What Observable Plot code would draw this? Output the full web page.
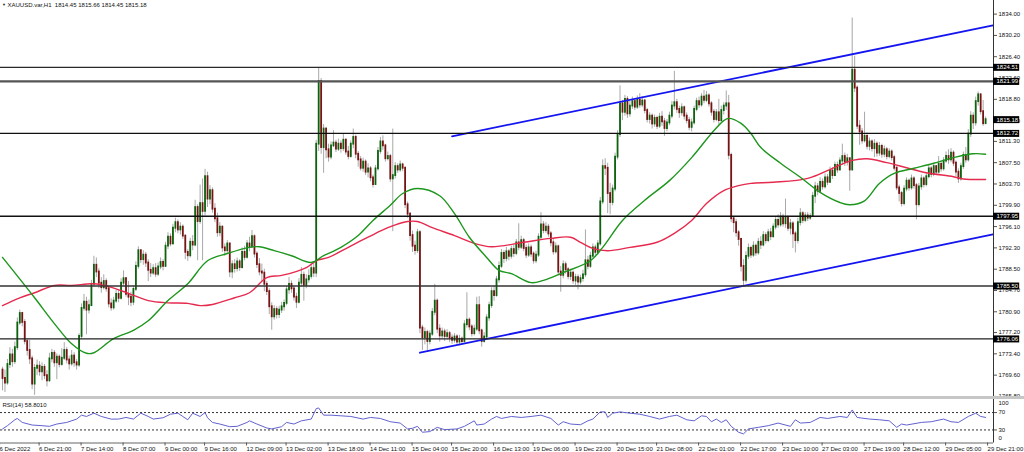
<!DOCTYPE html>
<html><head><meta charset="utf-8">
<script src="https://cdn.jsdelivr.net/npm/d3@7"></script>
<script src="https://cdn.jsdelivr.net/npm/@observablehq/plot@0.6"></script>
<style>
html,body{margin:0;padding:0;background:#fff;overflow:hidden}
#chart{width:1024px;height:452px;display:flex;flex-direction:column}
#chart svg{display:block}
.sep{height:3px;background:#c6c6c6;flex:none}
</style></head><body><div id="chart"></div>
<script>
// ---------- DATA ----------
const headerText = "XAUUSD.var,H1  1814.45 1815.66 1814.45 1815.18";
const rsiLabel = "RSI(14) 58.8010";
const firstOpen = 1770.5;
const closes = [
1769.0,1768.2,1771.5,1773.2,1772.0,1774.5,1778.9,1780.6,1779.0,1775.6,
1774.0,1772.5,1768.0,1770.8,1771.2,1770.2,1771.0,1769.5,1768.6,1772.5,
1773.5,1771.8,1772.8,1771.5,1772.6,1774.0,1772.3,1771.6,1773.0,1771.8,
1771.4,1776.5,1781.5,1782.6,1781.2,1782.0,1785.8,1789.2,1788.0,1786.0,
1785.2,1786.3,1785.0,1782.3,1781.6,1782.8,1784.0,1783.3,1786.0,1786.8,
1784.0,1783.5,1782.6,1784.9,1789.0,1791.8,1790.2,1791.0,1789.6,1788.3,
1787.8,1788.6,1787.6,1788.9,1789.7,1789.0,1792.6,1794.2,1793.0,1795.8,
1796.8,1795.5,1796.0,1794.4,1791.5,1790.9,1793.3,1792.8,1799.5,1797.0,
1800.2,1798.8,1805.0,1801.0,1802.5,1799.2,1797.5,1795.0,1796.0,1792.3,
1791.8,1793.0,1788.0,1789.3,1788.6,1789.8,1788.8,1791.5,1790.6,1793.0,
1792.5,1794.3,1791.2,1789.3,1788.0,1787.8,1785.8,1784.5,1781.8,1780.0,
1781.3,1780.4,1781.2,1781.8,1782.4,1784.8,1785.8,1785.0,1783.5,1782.6,
1786.0,1787.4,1785.6,1786.6,1787.2,1788.6,1787.8,1810.8,1822.0,1810.2,
1813.5,1809.8,1808.5,1810.5,1811.0,1809.9,1810.8,1810.0,1811.5,1809.4,
1808.6,1810.8,1812.0,1809.0,1808.0,1806.5,1807.6,1805.8,1806.4,1804.8,
1803.6,1806.4,1809.5,1811.2,1810.5,1808.2,1808.6,1804.6,1805.2,1806.8,
1806.2,1807.1,1806.5,1800.0,1798.3,1794.5,1792.6,1791.8,1795.0,1778.0,
1776.3,1777.2,1775.6,1776.9,1780.8,1782.8,1777.8,1776.6,1777.3,1776.5,
1777.0,1776.2,1775.8,1776.4,1775.5,1776.0,1775.6,1778.6,1779.4,1778.2,
1777.0,1777.8,1782.0,1777.5,1775.6,1776.4,1779.8,1782.0,1784.5,1783.8,
1786.6,1789.0,1791.3,1790.4,1791.6,1790.8,1792.0,1791.3,1793.2,1792.4,
1793.6,1792.2,1791.0,1792.3,1791.2,1790.0,1791.0,1794.2,1796.4,1795.4,
1796.0,1794.8,1793.2,1791.6,1792.5,1788.0,1787.4,1789.3,1788.4,1787.2,
1787.8,1786.4,1787.0,1786.2,1786.8,1787.5,1790.0,1789.0,1790.8,1792.3,
1791.5,1793.0,1800.5,1806.8,1806.5,1802.0,1800.4,1802.8,1808.5,1812.5,
1818.0,1816.5,1818.8,1816.2,1817.6,1818.4,1817.4,1818.6,1817.8,1818.5,
1816.8,1815.2,1815.8,1814.4,1815.4,1814.0,1815.6,1814.8,1813.6,1814.6,
1815.8,1817.6,1818.2,1817.0,1816.4,1817.3,1815.8,1815.0,1813.8,1814.6,
1817.0,1818.4,1817.8,1819.2,1818.6,1819.4,1818.0,1816.5,1815.2,1816.4,
1815.0,1816.8,1817.6,1818.0,1808.8,1797.5,1796.8,1795.0,1793.8,1789.0,
1786.5,1790.8,1792.2,1791.0,1792.6,1791.4,1793.3,1792.8,1794.5,1793.6,
1795.0,1794.3,1796.0,1797.2,1796.4,1797.8,1796.6,1797.6,1795.8,1796.6,
1794.8,1793.6,1796.8,1798.4,1797.2,1798.0,1797.6,1797.9,1801.5,1803.2,
1802.4,1804.0,1803.2,1804.8,1804.0,1806.0,1805.2,1807.0,1806.2,1807.8,
1808.6,1807.6,1808.2,1806.2,1824.0,1820.8,1814.0,1813.0,1811.4,1812.2,
1810.4,1811.2,1810.0,1810.8,1809.2,1810.4,1809.0,1809.8,1808.6,1809.4,
1808.4,1806.5,1803.0,1802.0,1800.2,1802.8,1804.2,1803.0,1804.6,1803.4,
1800.0,1803.2,1804.6,1803.6,1805.0,1806.4,1805.4,1806.8,1805.8,1807.2,
1806.4,1807.8,1808.6,1808.0,1809.2,1807.4,1805.8,1804.6,1806.8,1808.8,
1808.0,1812.6,1815.8,1814.6,1818.4,1819.6,1816.6,1814.45,1815.18
];
const highs = [
1771.0,1770.5,1772.4,1774.5,1774.2,1775.5,1779.8,1781.2,1780.8,1779.5,
1776.0,1775.8,1773.0,1771.5,1772.3,1772.0,1771.8,1771.5,1770.4,1773.5,
1774.2,1774.0,1773.4,1773.2,1774.3,1775.4,1774.5,1773.0,1774.0,1773.6,
1772.4,1777.0,1782.3,1784.0,1783.5,1783.0,1786.5,1790.8,1790.5,1788.6,
1787.0,1787.5,1786.8,1785.4,1783.2,1783.5,1784.7,1784.8,1786.8,1788.2,
1787.0,1786.3,1784.4,1785.5,1789.8,1792.5,1792.0,1791.8,1791.5,1790.2,
1789.5,1789.3,1789.5,1789.6,1790.5,1790.2,1793.3,1795.0,1794.8,1796.5,
1797.6,1797.3,1796.8,1796.4,1794.6,1792.0,1794.0,1794.5,1800.8,1800.0,
1803.5,1804.6,1806.3,1805.8,1803.4,1803.0,1800.2,1798.5,1796.8,1796.2,
1793.0,1793.6,1793.2,1790.0,1790.2,1790.5,1790.2,1792.3,1792.6,1793.6,
1794.2,1795.4,1794.6,1791.6,1790.4,1789.4,1788.5,1786.3,1785.0,1782.5,
1782.0,1781.8,1781.9,1782.6,1783.0,1785.4,1787.0,1786.4,1785.4,1784.2,
1786.8,1788.8,1788.0,1787.5,1788.4,1789.3,1789.8,1811.5,1824.5,1822.5,
1814.3,1813.8,1810.8,1811.2,1813.2,1811.5,1811.7,1811.4,1812.6,1811.8,
1810.4,1811.4,1813.5,1812.4,1809.5,1808.6,1808.3,1808.0,1807.3,1806.8,
1805.3,1807.0,1810.2,1812.0,1812.3,1810.8,1809.4,1809.0,1813.5,1807.5,
1807.3,1807.8,1807.4,1806.8,1800.5,1798.6,1795.3,1793.5,1795.6,1795.4,
1778.5,1778.0,1777.6,1777.5,1781.5,1785.8,1783.2,1778.6,1778.0,1777.8,
1777.7,1777.4,1776.8,1777.0,1776.8,1776.7,1776.4,1779.3,1784.3,1779.8,
1778.6,1778.5,1783.5,1783.6,1777.8,1777.2,1780.4,1782.6,1785.2,1785.5,
1787.2,1789.8,1792.0,1791.8,1792.4,1792.0,1792.6,1792.8,1793.8,1796.6,
1794.4,1794.0,1792.8,1793.0,1792.8,1791.6,1791.7,1794.8,1798.6,1797.0,
1796.8,1796.5,1795.2,1793.8,1793.2,1792.8,1789.0,1790.0,1789.8,1788.8,
1788.5,1788.2,1787.6,1787.5,1787.4,1788.3,1795.5,1790.8,1791.5,1793.0,
1792.8,1793.6,1801.3,1808.0,1808.2,1807.4,1803.8,1803.5,1809.2,1813.2,
1821.2,1818.6,1819.5,1819.3,1818.4,1819.2,1818.9,1819.4,1819.8,1819.3,
1818.8,1817.2,1816.4,1816.2,1816.0,1815.8,1816.3,1816.6,1815.4,1815.2,
1816.5,1818.4,1823.8,1818.8,1817.6,1818.0,1817.6,1816.4,1815.6,1815.3,
1817.6,1819.0,1819.2,1819.8,1820.4,1820.2,1819.8,1818.4,1817.0,1817.0,
1818.8,1817.6,1818.2,1820.3,1819.5,1809.2,1797.8,1797.4,1795.4,1794.0,
1790.2,1791.6,1793.0,1792.6,1793.4,1793.0,1794.0,1794.3,1795.2,1795.0,
1795.6,1795.8,1796.6,1797.9,1798.2,1798.6,1798.3,1801.0,1798.0,1797.4,
1797.0,1795.2,1797.6,1799.3,1798.8,1798.6,1798.6,1798.4,1802.2,1804.0,
1803.8,1804.8,1804.6,1805.5,1805.4,1806.7,1806.6,1807.6,1807.6,1808.4,
1810.8,1809.2,1809.0,1808.4,1833.3,1826.5,1821.2,1815.0,1813.6,1816.5,
1812.8,1811.9,1811.6,1811.6,1811.2,1811.1,1810.8,1810.5,1810.2,1810.0,
1809.8,1808.8,1806.8,1803.5,1802.4,1803.4,1804.8,1804.6,1805.3,1805.0,
1803.8,1803.8,1805.3,1805.0,1805.6,1807.2,1806.8,1807.4,1807.0,1808.6,
1807.8,1808.4,1809.4,1809.8,1810.0,1809.6,1807.8,1806.4,1807.4,1809.4,
1810.2,1813.4,1816.6,1816.4,1819.2,1820.1,1819.8,1818.6,1815.66
];
const lows = [
1766.8,1766.5,1767.8,1770.8,1771.0,1771.5,1774.0,1778.5,1778.2,1775.0,
1773.0,1771.5,1767.0,1766.0,1769.5,1769.4,1768.6,1768.8,1767.5,1768.3,
1771.8,1771.0,1768.8,1770.9,1771.2,1772.2,1771.6,1770.5,1771.2,1771.0,
1770.5,1771.0,1776.0,1781.0,1776.8,1780.5,1781.8,1785.3,1787.0,1785.0,
1784.2,1784.8,1784.4,1781.6,1781.0,1781.2,1782.4,1782.5,1783.0,1785.5,
1783.5,1782.0,1781.8,1782.0,1784.5,1788.5,1789.5,1789.2,1788.8,1786.3,
1787.0,1787.4,1787.0,1787.2,1788.4,1788.2,1788.8,1792.0,1792.5,1792.8,
1795.0,1794.8,1794.6,1793.8,1790.2,1789.9,1790.5,1791.8,1792.5,1790.0,
1796.5,1790.0,1798.0,1799.5,1800.0,1798.5,1796.8,1794.2,1794.3,1791.5,
1790.8,1791.2,1787.0,1786.8,1787.8,1788.0,1788.1,1788.5,1790.0,1790.3,
1791.6,1792.2,1790.5,1788.6,1787.3,1786.2,1784.5,1783.8,1780.4,1777.6,
1779.4,1779.6,1779.7,1780.6,1781.0,1782.0,1784.0,1784.2,1782.8,1781.5,
1782.3,1785.3,1782.8,1785.0,1786.0,1786.7,1787.0,1787.0,1809.5,1809.0,
1805.6,1808.2,1807.6,1808.0,1810.2,1809.3,1809.5,1809.2,1809.5,1808.8,
1808.0,1808.3,1810.0,1808.2,1806.7,1806.0,1805.8,1805.2,1804.8,1804.1,
1803.0,1803.5,1806.0,1809.0,1809.7,1807.6,1807.8,1804.0,1795.2,1804.6,
1805.6,1805.8,1805.9,1799.3,1797.6,1793.5,1791.5,1791.0,1791.3,1777.0,
1774.0,1775.0,1773.9,1775.0,1776.5,1780.2,1777.0,1775.5,1776.0,1775.6,
1775.9,1775.4,1775.1,1775.3,1774.9,1774.8,1775.0,1775.3,1778.0,1777.5,
1776.4,1776.6,1777.4,1776.8,1774.6,1775.3,1776.0,1779.2,1781.5,1782.8,
1783.5,1786.0,1788.6,1789.5,1789.8,1790.0,1790.3,1790.6,1790.9,1791.8,
1792.0,1791.6,1790.4,1790.6,1790.6,1789.4,1789.5,1790.6,1793.8,1794.8,
1794.9,1794.2,1792.5,1791.0,1791.2,1787.3,1784.4,1786.8,1787.6,1786.6,
1786.5,1785.8,1785.6,1784.8,1785.7,1786.2,1787.0,1788.4,1788.6,1790.4,
1790.6,1791.0,1792.6,1800.0,1805.2,1798.4,1798.2,1799.8,1802.3,1808.0,
1812.0,1815.0,1815.8,1815.4,1815.6,1817.0,1816.8,1817.0,1817.2,1817.3,
1816.2,1814.6,1814.4,1813.5,1813.8,1813.4,1813.6,1814.0,1812.2,1813.0,
1814.1,1815.3,1816.9,1816.3,1815.4,1815.8,1815.1,1814.4,1813.2,1813.0,
1814.2,1816.6,1817.2,1817.4,1818.0,1818.2,1817.4,1815.8,1814.6,1814.8,
1814.2,1814.5,1816.0,1816.8,1808.0,1796.8,1795.0,1794.2,1792.6,1788.0,
1785.3,1786.0,1790.2,1790.4,1790.6,1790.8,1791.0,1792.0,1792.5,1793.0,
1793.2,1793.6,1794.0,1795.5,1795.8,1796.0,1796.0,1795.8,1795.2,1794.6,
1792.2,1791.4,1793.0,1796.2,1796.6,1796.8,1797.0,1797.2,1797.8,1800.2,
1801.6,1802.0,1802.6,1802.8,1803.4,1803.8,1804.5,1805.0,1805.6,1806.0,
1807.0,1806.8,1806.9,1802.4,1806.0,1820.0,1813.4,1810.6,1810.8,1811.0,
1809.8,1809.6,1809.4,1808.4,1808.5,1808.6,1808.3,1808.4,1808.0,1808.2,
1807.8,1806.0,1802.5,1800.5,1799.6,1799.8,1802.3,1802.4,1802.6,1802.8,
1797.3,1799.6,1802.6,1803.0,1803.2,1804.6,1804.8,1805.0,1805.2,1805.5,
1805.8,1806.0,1807.4,1807.2,1807.5,1806.8,1805.0,1803.8,1804.2,1806.3,
1807.4,1807.6,1812.0,1813.4,1814.0,1817.6,1816.0,1814.0,1814.45
];

const greenMaBars = [0,13,21,28,34,37,45,53,59,67,75,83,91,100,104,110,117,125,130,137,144,150,157,162,168,177,183,189,196,201,206,214,219,227,238,243,251,260,270,279,287,292,294,299,303,307,315,323,331,339,343,349,355,361,369,377,385,393,398];
const greenMaPrices = [1790.6,1783.4,1778.8,1775.2,1773.5,1773.6,1776.1,1777.6,1779.3,1782.9,1785.9,1790.0,1791.3,1792.4,1792.5,1791.8,1790.9,1789.7,1790.9,1792.4,1794.5,1797.2,1799.9,1802.0,1802.9,1801.6,1798.4,1794.2,1790.6,1788.3,1787.7,1786.1,1786.5,1787.9,1790.0,1792.4,1797.2,1800.8,1804.3,1808.4,1812.7,1815.0,1815.4,1814.5,1812.7,1810.2,1807.4,1804.9,1802.2,1800.4,1800.0,1800.7,1803.8,1805.6,1806.5,1807.4,1808.4,1809.1,1809.0];
const redMaBars = [0,7,13,21,28,37,43,51,59,67,75,80,85,94,100,107,113,123,127,132,140,148,156,164,168,174,183,191,198,211,222,230,234,239,245,254,265,272,279,285,292,298,303,312,326,336,344,350,358,366,374,385,389,398];
const redMaPrices = [1782.0,1783.4,1784.3,1785.6,1785.6,1785.9,1785.4,1784.2,1782.9,1782.5,1782.4,1782.0,1782.2,1783.4,1784.3,1787.0,1787.4,1788.8,1790.0,1790.6,1792.4,1794.2,1795.9,1797.0,1797.0,1795.9,1794.5,1793.1,1792.5,1793.3,1794.0,1794.2,1793.3,1792.2,1791.8,1792.4,1793.3,1794.9,1797.2,1800.2,1802.5,1803.4,1803.8,1804.0,1804.7,1806.5,1807.9,1808.2,1807.5,1806.6,1805.7,1805.0,1804.6,1804.5];

const channelUpperBars = [182, 401];
const channelUpperPrices = [1812.2, 1832.0];
const channelLowerBars = [169, 401];
const channelLowerPrices = [1773.6, 1794.7];

const levelPrices = [1824.51, 1821.99, 1812.72, 1797.95, 1785.50, 1776.06];
const currentPrice = 1815.18;

const yTickValues = [1834.00,1830.20,1826.40,1822.60,1818.80,1815.00,1811.30,1807.50,1803.70,1799.90,1796.10,1792.30,1788.50,1784.70,1780.90,1777.20,1773.40,1769.60,1765.80];

const rsiBars = [0,2,5,6,8,12,16,19,22,26,30,32,34,37,40,44,47,50,53,56,59,61,65,68,71,73,75,77,80,82,83,85,88,92,95,99,100,103,107,109,113,115,118,121,125,127,128,130,133,137,141,146,149,153,157,161,164,166,168,170,173,176,179,184,187,191,192,195,198,200,202,206,210,214,218,222,225,227,230,234,237,239,242,244,245,247,250,254,258,262,266,270,273,277,280,283,285,287,289,291,293,295,298,300,302,306,310,314,319,321,323,327,331,334,339,342,344,346,351,355,359,362,364,366,372,376,381,384,387,391,394,396,398];
const rsiValues = [32.3,39.8,53.4,56.4,47.3,41.3,39.8,38.3,43.6,47.3,54.9,64,61,68.5,61,54.9,55,58.7,55,68.5,61,55,58,66.2,68.5,61,53.4,68.5,61,70,58,47.3,43.6,37.5,38.3,47.3,51,43.6,34.5,32.3,37.5,47.3,43.6,51,55,79,80.6,64,64,62.5,61,55,58.7,56.4,48.9,45.8,32.3,33.8,38.3,24.7,26.2,36,30.7,32.3,38.3,51,41.3,43.6,55,61,56.4,61,58.7,61,64,56.4,41.3,48.9,43.6,42,51,55,71.5,71.5,58.7,68.5,71.5,68.5,66.2,61,55,61,64,53.4,51,62.5,61,48.9,55,47.3,53.4,38.3,24.7,21,32.3,36,39.8,45.8,38.3,53.4,45.8,47.3,58.7,56.4,61,58.7,76,58.7,55,53.4,51,36,43.6,41.3,47.3,48.9,55,48.9,47.3,61,68.5,61,58.8];
const rsiLevels = [70, 30];

const xTickBars = [-2,14,31,48,65,81,98,114,131,148,165,181,198,214,231,248,264,281,298,315,331,348,364,381,398];
const xTickLabels = ["6 Dec 2022","6 Dec 21:00","7 Dec 14:00","8 Dec 07:00","9 Dec 00:00","9 Dec 16:00","12 Dec 09:00","13 Dec 02:00","13 Dec 18:00","14 Dec 11:00","15 Dec 04:00","15 Dec 20:00","16 Dec 13:00","19 Dec 06:00","19 Dec 23:00","20 Dec 15:00","21 Dec 08:00","22 Dec 01:00","22 Dec 17:00","23 Dec 10:00","27 Dec 03:00","27 Dec 19:00","28 Dec 12:00","29 Dec 05:00","29 Dec 21:00"];

// ---------- BUILD ----------
const bars = closes.map((c, i) => ({i, o: i === 0 ? firstOpen : closes[i - 1], h: highs[i], l: lows[i], c}));
const greenMa = greenMaBars.map((b, k) => ({i: b, p: greenMaPrices[k]}));
const redMa = redMaBars.map((b, k) => ({i: b, p: redMaPrices[k]}));
const upper = channelUpperBars.map((b, k) => ({i: b, p: channelUpperPrices[k]}));
const lower = channelLowerBars.map((b, k) => ({i: b, p: channelLowerPrices[k]}));
const rsi = rsiBars.map((b, k) => ({i: b, v: rsiValues[k]}));
const labelByBar = new Map(xTickBars.map((b, k) => [b, xTickLabels[k]]));

const xDomain = [-0.81, 401.2];
const xEnd = xDomain[1];
const boxBars = 10.6;
const FONT = "Liberation Sans, Arial, sans-serif";
const FS = 6;
const levelStyles = [
  {stroke: "#2a2a2a", w: 1.3}, {stroke: "#555", w: 2.2}, {stroke: "#111", w: 1.3},
  {stroke: "#111", w: 1.5}, {stroke: "#333", w: 1.5}, {stroke: "#222", w: 1.3}
];
const levels = levelPrices.map((p, k) => ({p, ...levelStyles[k]}));
const boxes = [...levelPrices, currentPrice];

const main = Plot.plot({
  width: 1024, height: 396,
  marginLeft: 0, marginRight: 31, marginTop: 0, marginBottom: 0,
  style: {fontFamily: FONT, fontSize: FS + "px", background: "white", overflow: "visible"},
  x: {domain: xDomain, axis: null},
  y: {domain: [1765.79, 1836.43], axis: null},
  color: {type: "identity"},
  marks: [
    Plot.ruleX(bars, {x: "i", y1: d => Math.min(d.l, d.o, d.c), y2: d => Math.max(d.h, d.o, d.c), stroke: "#a8a8a8", strokeWidth: 1}),
    Plot.ruleX(bars, {x: "i", y1: "o", y2: "c", stroke: d => d.c >= d.o ? "#0d620d" : "#761414", strokeWidth: 1.8, strokeLinecap: "square"}),
    Plot.line(redMa, {x: "i", y: "p", stroke: "#e62a4e", strokeWidth: 1.4, curve: "catmull-rom"}),
    Plot.line(greenMa, {x: "i", y: "p", stroke: "#1c961c", strokeWidth: 1.4, curve: "catmull-rom"}),
    Plot.line(upper, {x: "i", y: "p", stroke: "#1414f0", strokeWidth: 1.8}),
    Plot.line(lower, {x: "i", y: "p", stroke: "#1414f0", strokeWidth: 1.8}),
    Plot.ruleY(levels, {y: "p", stroke: "stroke", strokeWidth: "w"}),
    Plot.ruleX([xEnd], {stroke: "#333", strokeWidth: 1}),
    Plot.axisY(yTickValues, {anchor: "right", tickFormat: d => d.toFixed(2), tickSize: 3, tickPadding: 2, fontSize: FS, fill: "#111", stroke: "#555", label: null}),
    Plot.ruleY(boxes, {y: d => d, x1: xEnd, x2: xEnd + boxBars, stroke: "black", strokeWidth: 7}),
    Plot.text(boxes, {y: d => d, x: xEnd, text: d => d.toFixed(2), dx: 3, textAnchor: "start", fill: "white", fontSize: FS}),
    Plot.text(["\u25BC"], {frameAnchor: "top-left", dx: 1.5, dy: 3, fontSize: 4, fill: "#222", textAnchor: "start"}),
    Plot.text([headerText], {frameAnchor: "top-left", dx: 7, dy: 2, lineAnchor: "top", textAnchor: "start", fontSize: FS, fill: "#111"})
  ]
});

const rsiPlot = Plot.plot({
  width: 1024, height: 53,
  marginLeft: 0, marginRight: 31, marginTop: 0, marginBottom: 9.5,
  style: {fontFamily: FONT, fontSize: FS + "px", background: "white", overflow: "visible"},
  x: {domain: xDomain, axis: null},
  y: {domain: [0, 100], axis: null},
  marks: [
    Plot.ruleY(rsiLevels, {stroke: "#333", strokeDasharray: "2,2", strokeWidth: 1}),
    Plot.line(rsi, {x: "i", y: "v", stroke: "#6262cf", strokeWidth: 1}),
    Plot.ruleY([0], {stroke: "#666", strokeWidth: 1}),
    Plot.ruleX([xEnd], {stroke: "#333", strokeWidth: 1}),
    Plot.axisY(rsiLevels, {anchor: "right", tickSize: 3, tickPadding: 2, fontSize: FS, fill: "#111", stroke: "#555", label: null}),
    Plot.text([100], {x: xEnd, y: d => d, text: d => String(d), dx: 5, dy: 4, textAnchor: "start", fontSize: FS, fill: "#111"}),
    Plot.text([0], {x: xEnd, y: d => d, text: d => String(d), dx: 5, dy: -5, textAnchor: "start", fontSize: FS, fill: "#111"}),
    Plot.axisX(xTickBars, {anchor: "bottom", tickFormat: d => labelByBar.get(d), textAnchor: "start", tickSize: 3, tickPadding: 1, dx: 2, fontSize: FS, fill: "#111", stroke: "#555", label: null}),
    Plot.text([rsiLabel], {frameAnchor: "top-left", dx: 2, dy: 3, lineAnchor: "top", textAnchor: "start", fontSize: FS, fill: "#111"})
  ]
});

const root = document.getElementById("chart");
root.appendChild(main);
const sep = document.createElement("div");
sep.className = "sep";
root.appendChild(sep);
root.appendChild(rsiPlot);
</script>
</body></html>
